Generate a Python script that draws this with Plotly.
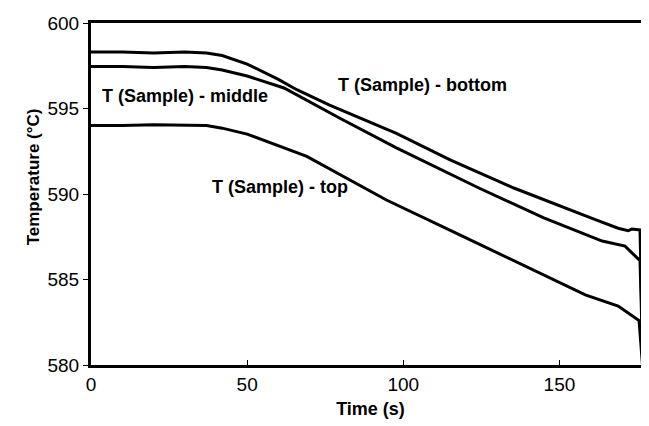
import plotly.graph_objects as go

# Time (s) and temperatures (°C)
t_bottom = [0, 10, 20, 30, 37, 42, 50, 60, 65.9, 76.4, 97.8, 115, 135.4, 150, 161.5, 168.8, 172, 173.2, 175.8, 176.8]
T_bottom = [598.3, 598.3, 598.25, 598.3, 598.25, 598.1, 597.6, 596.7, 596.1, 595.2, 593.55, 592.0, 590.35, 589.3, 588.5, 588.0, 587.85, 587.95, 587.9, 579.5]

t_middle = [0, 10, 20, 30, 37, 42, 50, 61.8, 80, 97.8, 124.2, 145, 163.7, 171, 175.8, 176.8]
T_middle = [597.45, 597.45, 597.4, 597.45, 597.4, 597.25, 596.9, 596.2, 594.4, 592.7, 590.35, 588.6, 587.25, 586.95, 586.1, 579.5]

t_top = [0, 10, 20, 30, 37, 42, 50, 69.1, 94.6, 115.9, 137, 158.3, 168.8, 175.5, 176.8]
T_top = [594.0, 594.0, 594.05, 594.0, 594.0, 593.85, 593.5, 592.2, 589.65, 587.8, 585.95, 584.1, 583.45, 582.6, 579.5]

x_ticks = [0, 50, 100, 150]
y_ticks = [580, 585, 590, 595, 600]

FONT = "Liberation Sans, Arial, sans-serif"

fig = go.Figure()
for tt, TT in [(t_bottom, T_bottom), (t_middle, T_middle), (t_top, T_top)]:
    fig.add_trace(go.Scatter(x=tt, y=TT, mode="lines",
                             line=dict(color="black", width=3),
                             showlegend=False, hoverinfo="skip"))

labels = [
    ("T (Sample) - middle", 3.0, 595.75),
    ("T (Sample) - bottom", 78.5, 596.4),
    ("T (Sample) - top", 38.0, 590.4),
]
for txt, x, y in labels:
    fig.add_annotation(x=x, y=y, text="<b>" + txt + "</b>", showarrow=False,
                       xanchor="left", yanchor="middle",
                       font=dict(family=FONT, size=18, color="black"))

# y-axis title placed as an annotation (sits slightly above plot centre)
fig.add_annotation(xref="paper", yref="paper", x=-0.103, y=0.55,
                   text="<b>Temperature (°C)</b>", textangle=-90, showarrow=False,
                   xanchor="center", yanchor="middle",
                   font=dict(family=FONT, size=17, color="black"))

fig.update_layout(
    width=649, height=426,
    margin=dict(l=83, r=4, t=15, b=69),
    paper_bgcolor="white", plot_bgcolor="white",
    font=dict(family=FONT, size=19, color="black"),
)
fig.update_xaxes(range=[0, 179], tickvals=x_ticks, ticks="inside", ticklen=5,
                 tickcolor="black", showgrid=False, zeroline=False,
                 showline=True, linecolor="black", linewidth=3, mirror=True,
                 title=dict(text="<b>Time (s)</b>", font=dict(size=18), standoff=9),
                 tickfont=dict(size=19))
fig.update_yaxes(range=[580, 600], tickvals=y_ticks, ticks="outside", ticklen=5,
                 tickcolor="black", showgrid=False, zeroline=False,
                 showline=True, linecolor="black", linewidth=3, mirror=True,
                 tickfont=dict(size=19))

fig.write_html("out.html")
